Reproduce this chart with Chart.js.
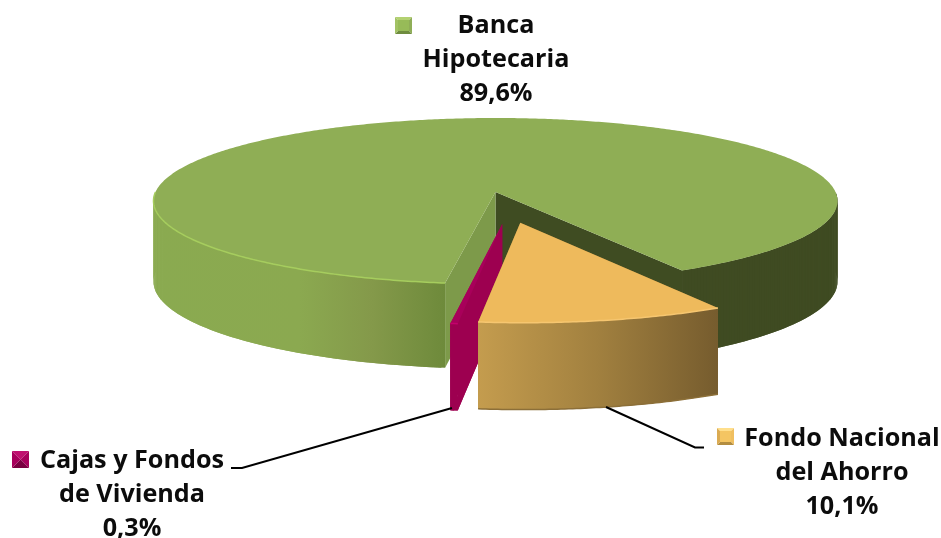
<!DOCTYPE html>
<html lang="es">
<head>
<meta charset="utf-8">
<title>Composición por entidad</title>
<style>
  html, body { margin: 0; padding: 0; background: #fff; }
  canvas { display: block; }
</style>
<script src="https://cdn.jsdelivr.net/npm/chart.js@4"></script>
</head>
<body>
<canvas id="pie" width="941" height="538"></canvas>
<script>
// Series
const categories = ['Banca Hipotecaria', 'Fondo Nacional del Ahorro', 'Cajas y Fondos de Vivienda'];
const values = [89.6, 10.1, 0.3];
const labelLines = [['Banca', 'Hipotecaria'], ['Fondo Nacional', 'del Ahorro'], ['Cajas y Fondos', 'de Vivienda']];

// Tilted-disc projection
const firstSliceAngle = 187.6;
const stretchX = 340 / 192;
const squashY = 82 / 192;
const perspective = 0.108;
const depth = 80;
const depthPerspective = 0.5;
const sliceShift = [[0, 0], [0.07, 0.36], [0.019, 0.375]];

const sliceStyle = [
  { top: '#8fae55', rim: '#a6cd5e', cutA: '#3f4c22', cutB: '#7d9a4a',
    wall: [[0, '#8aaa50'], [0.5, '#8ba950'], [0.75, '#84994a'], [1, '#6e8a3b']], wallBack: '#3f4b22', edge: null },
  { top: '#eeba5c', rim: '#f6c670', cutA: '#8a6c35', cutB: '#8a6c35',
    wall: [[0, '#c49c4e'], [0.5, '#a1803f'], [1, '#765c2e']], edge: '#8c6f38' },
  { top: '#a8005a', rim: '#c4006c', cutA: '#9d0050', cutB: '#9d0050',
    wall: [[0, '#9d0050'], [1, '#9d0050']], edge: null }
];

// Callouts drawn around the pie
const calloutStyle = [
  { cx: 496, cy: 26, key: [395, 17, 17], keyCol: ['#b3d171', '#8fae57', '#6f8c3f', '#a2c264'], core: '#97bb58' },
  { cx: 842, cy: 439, key: [717, 428, 17], keyCol: ['#ffdf8c', '#f0bf60', '#b38d40', '#dbab52'], core: '#f4c562' },
  { cx: 132, cy: 461, key: [12, 451, 17], keyCol: ['#c01070', '#a8005c', '#7a0040', '#a8005c'], core: null }
];
const leaders = [
  null,
  [[606, 407], [695, 447.5], [704, 447.5]],
  [[452, 408], [242, 468], [231, 468]]
];

function formatPercent(v) {
  return v.toFixed(1).replace('.', ',') + '%';
}

const pie3d = {
  id: 'pie3d',
  beforeDatasetDraw(chart, args) {
    const ctx = chart.ctx;
    const arcs = chart.getDatasetMeta(args.index).data;
    const cx = arcs[0].x, cy = arcs[0].y;
    const Rx = arcs[0].outerRadius * stretchX;
    const Ry = arcs[0].outerRadius * squashY;

    // Disc coordinates (u right, v towards the viewer) to canvas pixels
    const project = (u, v, z) => {
      const s = 1 / (1 - perspective * v);
      const drop = z * depth * (1 + (s - 1) * depthPerspective);
      return [cx + Rx * u * s, cy + Ry * v * s + drop];
    };
    const rimPoints = (i, a0, a1, z) => {
      const [ou, ov] = sliceShift[i];
      const n = Math.max(2, Math.ceil(Math.abs(a1 - a0) / 0.01));
      const pts = [];
      for (let k = 0; k <= n; k++) {
        const a = a0 + (a1 - a0) * k / n;
        pts.push(project(ou + Math.cos(a), ov + Math.sin(a), z));
      }
      return pts;
    };
    const fillPath = (pts, fill) => {
      ctx.beginPath();
      pts.forEach((p, k) => k ? ctx.lineTo(p[0], p[1]) : ctx.moveTo(p[0], p[1]));
      ctx.closePath();
      ctx.fillStyle = fill;
      ctx.fill();
    };
    const strokePath = (pts, color, width) => {
      ctx.beginPath();
      pts.forEach((p, k) => k ? ctx.lineTo(p[0], p[1]) : ctx.moveTo(p[0], p[1]));
      ctx.strokeStyle = color;
      ctx.lineWidth = width;
      ctx.stroke();
    };
    const wallGradient = (pts, stops) => {
      const xs = pts.map(p => p[0]);
      const g = ctx.createLinearGradient(Math.min(...xs), 0, Math.max(...xs), 0);
      stops.forEach(([o, c]) => g.addColorStop(o, c));
      return g;
    };
    // The wall is swept as overlapping quads so its sides stay vertical at the silhouette
    const wallFace = (i, a0, a1, fill) => {
      const upper = rimPoints(i, a0, a1, 0);
      const lower = rimPoints(i, a0, a1, 1);
      const paint = fill || wallGradient(upper, sliceStyle[i].wall);
      for (let k = 0; k < upper.length - 1; k++) {
        const e = Math.min(k + 2, upper.length - 1);
        fillPath([upper[k], upper[e], lower[e], lower[k]], paint);
      }
    };

    [0, 2, 1].forEach(i => {
      const arc = arcs[i];
      const st = sliceStyle[i];
      const [ou, ov] = sliceShift[i];
      const a0 = arc.startAngle, a1 = arc.endAngle;
      const apexTop = project(ou, ov, 0), apexLow = project(ou, ov, 1);

      // Underside of the detached slices shows through their narrow wedge
      if (!st.wallBack) fillPath([apexLow].concat(rimPoints(i, a0, a1, 1)), st.cutA);

      // The two radial cut faces
      const endTop = project(ou + Math.cos(a1), ov + Math.sin(a1), 0);
      const endLow = project(ou + Math.cos(a1), ov + Math.sin(a1), 1);
      const startTop = project(ou + Math.cos(a0), ov + Math.sin(a0), 0);
      const startLow = project(ou + Math.cos(a0), ov + Math.sin(a0), 1);
      fillPath([apexTop, endTop, endLow, apexLow], st.cutA);
      fillPath([apexTop, startTop, startLow, apexLow], st.cutB);

      // Outer wall: lit on the left of the large slice, in shade on its right;
      // the stretch behind the top face is never seen
      if (st.wallBack) {
        wallFace(i, a0, Math.PI);
        wallFace(i, 2 * Math.PI, a1, st.wallBack);
      } else {
        wallFace(i, a0, a1);
      }
      if (st.edge) strokePath(rimPoints(i, a0, a1, 1), st.edge, 1.5);

      // Top face and its lit rim
      fillPath([apexTop].concat(rimPoints(i, a0, a1, 0)), st.top);
      const litEnd = st.wallBack ? Math.PI : a1;
      strokePath(rimPoints(i, a0, litEnd, 0), st.rim, 1.5);
    });
    return false;
  },
  afterDraw(chart) {
    const ctx = chart.ctx;
    ctx.save();

    leaders.forEach(path => {
      if (!path) return;
      ctx.beginPath();
      path.forEach((p, k) => k ? ctx.lineTo(p[0], p[1]) : ctx.moveTo(p[0], p[1]));
      ctx.strokeStyle = '#000';
      ctx.lineWidth = 2;
      ctx.stroke();
    });

    categories.forEach((name, i) => {
      const c = calloutStyle[i];
      const [kx, ky, ks] = c.key;
      const mid = [kx + ks / 2, ky + ks / 2];
      const corners = [[kx, ky], [kx + ks, ky], [kx + ks, ky + ks], [kx, ky + ks]];
      corners.forEach((p, k) => {
        const q = corners[(k + 1) % 4];
        ctx.beginPath();
        ctx.moveTo(p[0], p[1]);
        ctx.lineTo(q[0], q[1]);
        ctx.lineTo(mid[0], mid[1]);
        ctx.closePath();
        ctx.fillStyle = c.keyCol[k];
        ctx.fill();
      });
      if (c.core) {
        ctx.fillStyle = c.core;
        ctx.fillRect(kx + 3, ky + 3, ks - 6, ks - 6);
      }

      ctx.fillStyle = '#0c0c0c';
      ctx.font = '700 25.2px "Open Sans"';
      ctx.textAlign = 'center';
      ctx.textBaseline = 'middle';
      const lines = labelLines[i].concat(formatPercent(values[i]));
      lines.forEach((t, k) => ctx.fillText(t, c.cx, c.cy + k * 34));
    });
    ctx.restore();
  }
};

new Chart(document.getElementById('pie'), {
  type: 'pie',
  data: {
    labels: categories,
    datasets: [{ data: values, backgroundColor: sliceStyle.map(s => s.top), borderWidth: 0 }]
  },
  options: {
    responsive: false,
    animation: false,
    rotation: firstSliceAngle,
    layout: { padding: { left: 50, bottom: 154 } },
    plugins: { legend: { display: false }, tooltip: { enabled: false } }
  },
  plugins: [pie3d]
});
</script>
</body>
</html>
